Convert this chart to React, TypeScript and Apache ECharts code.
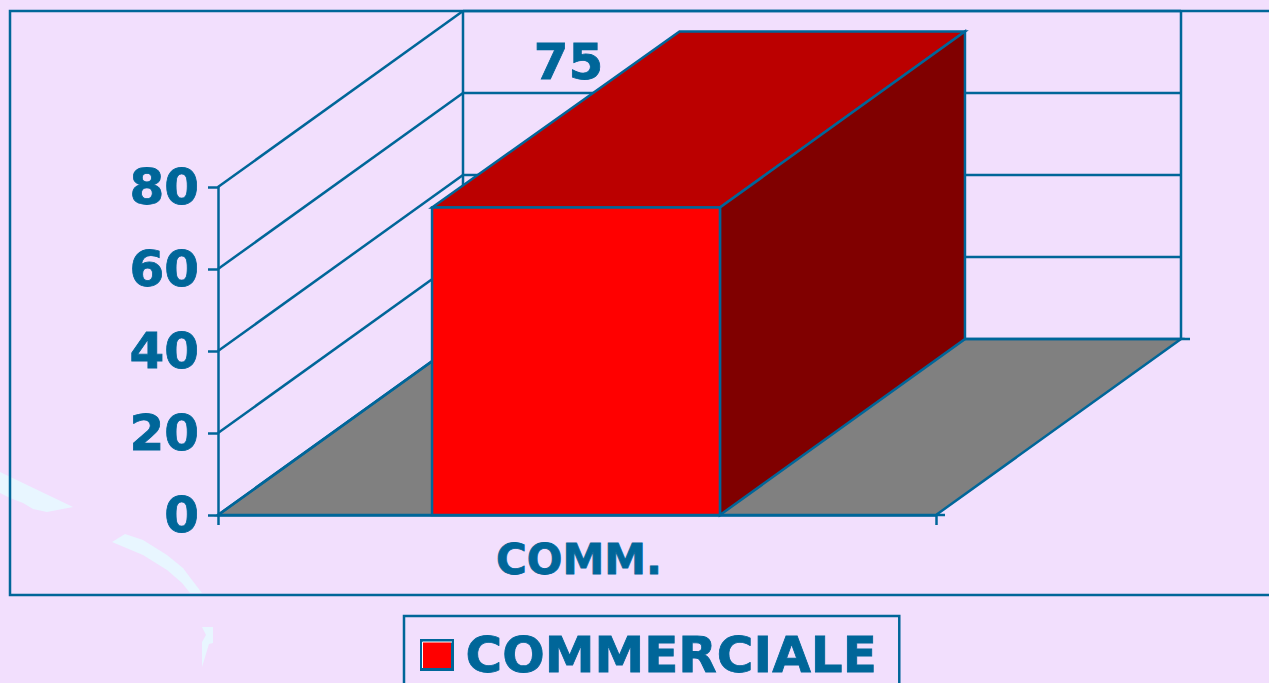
import React, { useEffect, useRef } from "react";
import * as echarts from "echarts";

const categories = ["COMM."];
const seriesName = "COMMERCIALE";
const values = [75];
const yTicks = [0, 20, 40, 60, 80];

const BLUE = "#006699";
const BG = "#F2DFFD";
const SWOOSH = "#E8F6FF";
const DX = 245;
const DY = -176;
const LW = 2.5;
const FONT = "'DejaVu Sans', sans-serif";
const TEXT_BORDER = 0.8;

const line = (x1: number, y1: number, x2: number, y2: number) => ({
  type: "line",
  shape: { x1, y1, x2, y2 },
  style: { stroke: BLUE, lineWidth: LW, fill: null },
});
const poly = (points: number[][], fill: string) => ({
  type: "polygon",
  shape: { points },
  style: { fill, stroke: BLUE, lineWidth: LW },
});
const swoosh = (points: number[][]) => ({
  type: "polygon",
  z: -10,
  silent: true,
  shape: { points },
  style: { fill: SWOOSH },
});

const renderWalls = (_: any, api: any) => {
  const band = api.size([1, 0])[0];
  const cx = api.coord([0, 0])[0];
  const left = cx - band / 2;
  const right = cx + band / 2;
  const y0 = api.coord([0, 0])[1];
  const yTop = api.coord([0, yTicks[yTicks.length - 1]])[1];
  const children: any[] = [
    poly(
      [
        [left, y0],
        [right, y0],
        [right + DX, y0 + DY],
        [left + DX, y0 + DY],
      ],
      "#808080",
    ),
    line(left + DX, yTop + DY, left + DX, y0 + DY),
    line(right + DX, yTop + DY, right + DX, y0 + DY),
    line(right + DX, y0 + DY, right + DX + 9, y0 + DY),
    line(right, y0, right + 9, y0),
  ];
  yTicks.forEach((t) => {
    const y = api.coord([0, t])[1];
    children.push(line(left, y, left + DX, y + DY));
    children.push(line(left + DX, y + DY, right + DX, y + DY));
  });
  return { type: "group", children };
};

const renderBar = (_: any, api: any) => {
  const band = api.size([1, 0])[0];
  const w = band * 0.401;
  const [cx0, yv] = api.coord([api.value(0), api.value(1)]);
  const cx = cx0 - 1;
  const y0 = api.coord([api.value(0), 0])[1];
  const l = cx - w / 2;
  const r = cx + w / 2;
  return {
    type: "group",
    children: [
      poly(
        [
          [l, yv],
          [l + DX + 2.5, yv + DY],
          [r + DX, yv + DY],
          [r, yv],
        ],
        "#BB0000",
      ),
      poly(
        [
          [r, yv],
          [r + DX, yv + DY],
          [r + DX, y0 + DY],
          [r, y0],
        ],
        "#800000",
      ),
      poly(
        [
          [l, yv],
          [r, yv],
          [r, y0],
          [l, y0],
        ],
        "#FF0000",
      ),
      {
        type: "text",
        x: cx - 7.5,
        y: yv - 146,
        style: {
          text: String(api.value(1)),
          fill: BLUE,
          stroke: BLUE,
          lineWidth: TEXT_BORDER,
          font: `bold 50px ${FONT}`,
          align: "center",
          verticalAlign: "middle",
        },
      },
    ],
  };
};

export default function App() {
  const ref = useRef<HTMLDivElement>(null);
  useEffect(() => {
    const chart = echarts.init(ref.current!, undefined, { renderer: "svg" });
    const data = categories.map((c, i) => [c, values[i]]);
    chart.setOption({
      animation: false,
      backgroundColor: BG,
      textStyle: { fontFamily: FONT },
      grid: { left: 218, top: 187, width: 718, height: 328 },
      legend: {
        data: [seriesName],
        left: 404,
        top: 616,
        orient: "horizontal",
        padding: [11, 22, 36, 16],
        borderColor: BLUE,
        borderWidth: 2.5,
        itemWidth: 31,
        itemHeight: 29,
        icon: "rect",
        selectedMode: false,
        itemStyle: { color: "#FF0000", borderColor: BLUE, borderWidth: 3 },
        textStyle: {
          color: BLUE,
          fontFamily: FONT,
          fontWeight: "bold",
          fontSize: 50,
          lineHeight: 50,
          padding: [0, 0, 6, 8],
          textBorderColor: BLUE,
          textBorderWidth: TEXT_BORDER,
        },
      },
      xAxis: {
        type: "category",
        data: categories,
        axisLine: { show: true, lineStyle: { color: BLUE, width: LW } },
        axisTick: { show: true, length: 10, alignWithLabel: false, lineStyle: { color: BLUE, width: LW } },
        axisLabel: {
          color: BLUE,
          fontWeight: "bold",
          fontSize: 42,
          margin: 23,
          padding: [0, 0, 0, 4],
          fontFamily: FONT,
          textBorderColor: BLUE,
          textBorderWidth: TEXT_BORDER,
        },
      },
      yAxis: {
        type: "value",
        min: 0,
        max: 80,
        interval: 20,
        splitLine: { show: false },
        axisLine: { show: true, lineStyle: { color: BLUE, width: LW } },
        axisTick: { show: true, length: 10, lineStyle: { color: BLUE, width: LW } },
        axisLabel: {
          color: BLUE,
          fontWeight: "bold",
          fontSize: 50,
          margin: 19,
          padding: [3, 0, 0, 0],
          fontFamily: FONT,
          textBorderColor: BLUE,
          textBorderWidth: TEXT_BORDER,
        },
      },
      graphic: {
        elements: [
          swoosh([[0,472],[73,507],[47,512],[33,509],[23,503],[10,498],[0,493]]),
          swoosh([[112,542],[125,534],[143,540],[167,555],[183,568],[192,580],[202,593],[190,593],[182,583],[167,570],[143,555]]),
          swoosh([[202,627],[213,627],[213,643],[209,644],[202,667],[202,642],[206,635]]),
          {
            type: "rect",
            z: -5,
            silent: true,
            shape: { x: 10, y: 11, width: 1400, height: 584 },
            style: { fill: "transparent", stroke: BLUE, lineWidth: LW },
          },
          {
            type: "polyline",
            z: 100,
            silent: true,
            shape: { points: [[422.5, 668], [422.5, 642], [452, 642]] },
            style: { stroke: "#FFFFFF", lineWidth: 1, fill: null },
          },
        ],
      },
      series: [
        {
          type: "custom",
          name: "walls",
          renderItem: renderWalls,
          data: data.slice(0, 1),
          encode: { x: 0, y: 1 },
          clip: false,
          silent: true,
          z: 1,
        },
        {
          type: "custom",
          name: seriesName,
          renderItem: renderBar,
          data,
          encode: { x: 0, y: 1 },
          clip: false,
          z: 2,
          itemStyle: { color: "#FF0000" },
        },
      ],
    });
    return () => chart.dispose();
  }, []);
  return <div ref={ref} style={{ position: "absolute", left: 0, top: 0, width: 1269, height: 683 }} />;
}
